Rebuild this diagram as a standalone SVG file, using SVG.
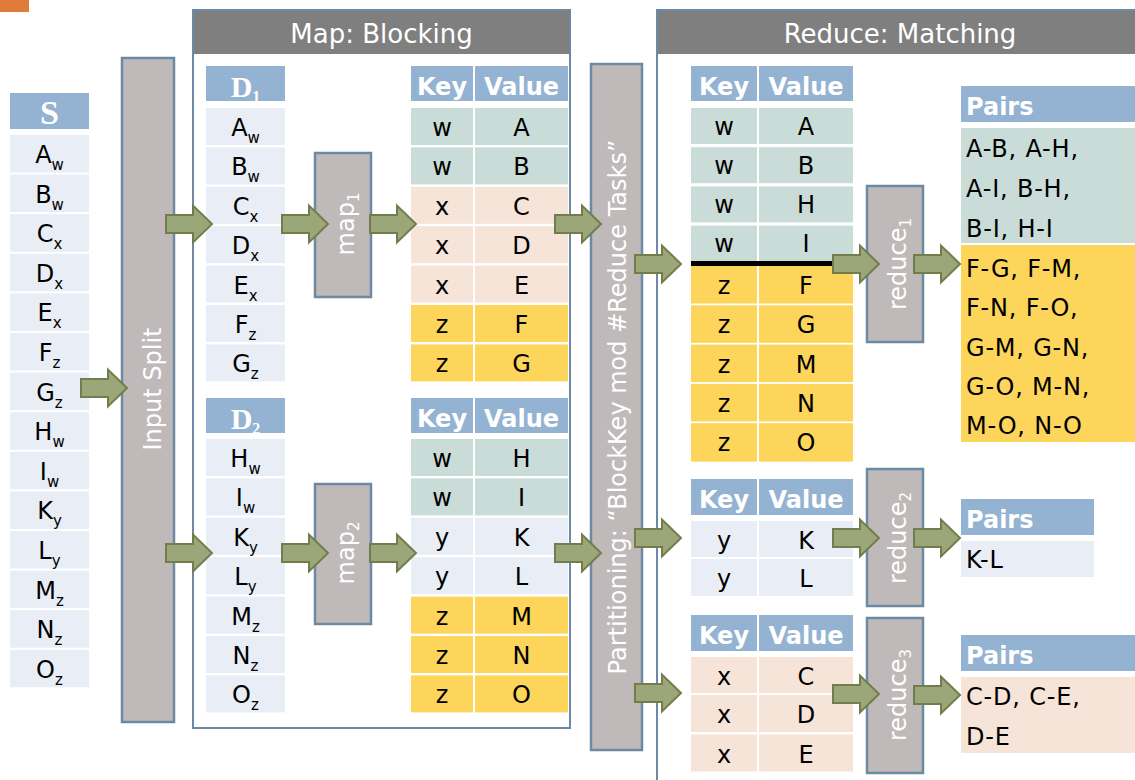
<svg xmlns="http://www.w3.org/2000/svg" xmlns:xlink="http://www.w3.org/1999/xlink" width="1135" height="780" viewBox="0 0 1135 780">
  <defs>
    <style>
      .hdr { fill: #94b3d2; }
      .lt { fill: #e9eef6; }
      .gr { fill: #c9dcd7; }
      .pe { fill: #f7e4d9; }
      .ye { fill: #fcd55a; }
      .bar { fill: #bfb9b9; stroke: #6d8aa5; stroke-width: 2.5; }
      .frame { fill: none; stroke: #6d8aa5; stroke-width: 2; }
      .band { fill: #7f7f7f; }
      text { font-family: "DejaVu Sans", sans-serif; }
      .c { font-size: 24px; text-anchor: middle; fill: #000; }
      .h { font-size: 24px; font-weight: bold; text-anchor: middle; fill: #fff; }
      .hl { font-size: 24px; font-weight: bold; fill: #fff; }
      .sf { font-family: "Liberation Serif", serif; font-weight: bold; text-anchor: middle; fill: #fff; }
      .p { font-size: 24px; fill: #000; letter-spacing: 0.8px; }
      .ttl { font-size: 26px; text-anchor: middle; fill: #fff; }
      .rot { font-size: 24px; text-anchor: middle; fill: #fff; }
      .sub { font-size: 15px; }
      .arrow { fill: #9ba679; stroke: #737d4c; stroke-width: 2; stroke-linejoin: miter; }
    </style>
    <path id="arr" class="arrow" d="M0,-9 H27 V-18.5 L46,0 L27,18.5 V9 H0 Z"/>
  </defs>

  <rect width="1135" height="780" fill="#fff"/>

  <!-- small corner tab -->
  <g id="corner-tab">
    <rect x="0" y="0" width="29" height="12" fill="#e07b39"/>
  </g>

  <!-- source table S -->
  <g id="node-S">
    <rect class="hdr" x="10" y="93" width="79" height="36"/>
    <text class="sf" x="49.5" y="124" font-size="34">S</text>
    <rect class="lt" x="10" y="135" width="79" height="37.5"/>
    <rect class="lt" x="10" y="174.6" width="79" height="37.5"/>
    <rect class="lt" x="10" y="214.2" width="79" height="37.5"/>
    <rect class="lt" x="10" y="253.8" width="79" height="37.5"/>
    <rect class="lt" x="10" y="293.4" width="79" height="37.5"/>
    <rect class="lt" x="10" y="333" width="79" height="37.5"/>
    <rect class="lt" x="10" y="372.6" width="79" height="37.5"/>
    <rect class="lt" x="10" y="412.2" width="79" height="37.5"/>
    <rect class="lt" x="10" y="451.8" width="79" height="37.5"/>
    <rect class="lt" x="10" y="491.4" width="79" height="37.5"/>
    <rect class="lt" x="10" y="531" width="79" height="37.5"/>
    <rect class="lt" x="10" y="570.6" width="79" height="37.5"/>
    <rect class="lt" x="10" y="610.2" width="79" height="37.5"/>
    <rect class="lt" x="10" y="649.8" width="79" height="37.5"/>
    <text class="c" x="49.5" y="163">A<tspan class="sub" dy="7">w</tspan></text>
    <text class="c" x="49.5" y="202.6">B<tspan class="sub" dy="7">w</tspan></text>
    <text class="c" x="49.5" y="242.2">C<tspan class="sub" dy="7">x</tspan></text>
    <text class="c" x="49.5" y="281.8">D<tspan class="sub" dy="7">x</tspan></text>
    <text class="c" x="49.5" y="321.4">E<tspan class="sub" dy="7">x</tspan></text>
    <text class="c" x="49.5" y="361">F<tspan class="sub" dy="7">z</tspan></text>
    <text class="c" x="49.5" y="400.6">G<tspan class="sub" dy="7">z</tspan></text>
    <text class="c" x="49.5" y="440.2">H<tspan class="sub" dy="7">w</tspan></text>
    <text class="c" x="49.5" y="479.8">I<tspan class="sub" dy="7">w</tspan></text>
    <text class="c" x="49.5" y="519.4">K<tspan class="sub" dy="7">y</tspan></text>
    <text class="c" x="49.5" y="559">L<tspan class="sub" dy="7">y</tspan></text>
    <text class="c" x="49.5" y="598.6">M<tspan class="sub" dy="7">z</tspan></text>
    <text class="c" x="49.5" y="638.2">N<tspan class="sub" dy="7">z</tspan></text>
    <text class="c" x="49.5" y="677.8">O<tspan class="sub" dy="7">z</tspan></text>
  </g>

  <!-- input split bar -->
  <g id="node-input-split">
    <rect class="bar" x="122" y="58" width="52" height="664"/>
    <text class="rot" font-size="26" transform="translate(161,389) rotate(-90)">Input Split</text>
  </g>

  <!-- map phase frame -->
  <g id="frame-map">
    <rect class="band" x="193" y="10" width="377" height="44"/>
    <rect class="frame" x="193" y="10" width="377" height="718"/>
    <text class="ttl" x="381.5" y="43">Map: Blocking</text>
  </g>

  <!-- partition D1 -->
  <g id="node-D1">
    <rect class="hdr" x="206" y="66" width="79" height="35"/>
    <text class="sf" x="245.5" y="97" font-size="30">D<tspan font-size="16" dy="5">1</tspan></text>
    <rect class="lt" x="206" y="108" width="79" height="37"/>
    <rect class="lt" x="206" y="147.4" width="79" height="37"/>
    <rect class="lt" x="206" y="186.8" width="79" height="37"/>
    <rect class="lt" x="206" y="226.2" width="79" height="37"/>
    <rect class="lt" x="206" y="265.6" width="79" height="37"/>
    <rect class="lt" x="206" y="305" width="79" height="37"/>
    <rect class="lt" x="206" y="344.4" width="79" height="37"/>
    <text class="c" x="245.5" y="136">A<tspan class="sub" dy="7">w</tspan></text>
    <text class="c" x="245.5" y="175.4">B<tspan class="sub" dy="7">w</tspan></text>
    <text class="c" x="245.5" y="214.8">C<tspan class="sub" dy="7">x</tspan></text>
    <text class="c" x="245.5" y="254.2">D<tspan class="sub" dy="7">x</tspan></text>
    <text class="c" x="245.5" y="293.6">E<tspan class="sub" dy="7">x</tspan></text>
    <text class="c" x="245.5" y="333">F<tspan class="sub" dy="7">z</tspan></text>
    <text class="c" x="245.5" y="372.4">G<tspan class="sub" dy="7">z</tspan></text>
  </g>

  <!-- partition D2 -->
  <g id="node-D2">
    <rect class="hdr" x="206" y="398" width="79" height="35"/>
    <text class="sf" x="245.5" y="429" font-size="30">D<tspan font-size="16" dy="5">2</tspan></text>
    <rect class="lt" x="206" y="439" width="79" height="37"/>
    <rect class="lt" x="206" y="478.4" width="79" height="37"/>
    <rect class="lt" x="206" y="517.8" width="79" height="37"/>
    <rect class="lt" x="206" y="557.2" width="79" height="37"/>
    <rect class="lt" x="206" y="596.6" width="79" height="37"/>
    <rect class="lt" x="206" y="636" width="79" height="37"/>
    <rect class="lt" x="206" y="675.4" width="79" height="37"/>
    <text class="c" x="245.5" y="467">H<tspan class="sub" dy="7">w</tspan></text>
    <text class="c" x="245.5" y="506.4">I<tspan class="sub" dy="7">w</tspan></text>
    <text class="c" x="245.5" y="545.8">K<tspan class="sub" dy="7">y</tspan></text>
    <text class="c" x="245.5" y="585.2">L<tspan class="sub" dy="7">y</tspan></text>
    <text class="c" x="245.5" y="624.6">M<tspan class="sub" dy="7">z</tspan></text>
    <text class="c" x="245.5" y="664">N<tspan class="sub" dy="7">z</tspan></text>
    <text class="c" x="245.5" y="703.4">O<tspan class="sub" dy="7">z</tspan></text>
  </g>

  <!-- mappers -->
  <g id="node-map1">
    <rect class="bar" x="315" y="153" width="56" height="144"/>
    <text class="rot" transform="translate(354,224) rotate(-90)">map<tspan class="sub" dy="5">1</tspan></text>
  </g>
  <g id="node-map2">
    <rect class="bar" x="315" y="484" width="56" height="140"/>
    <text class="rot" transform="translate(354,553) rotate(-90)">map<tspan class="sub" dy="5">2</tspan></text>
  </g>

  <!-- map output 1 -->
  <g id="node-kv1">
    <rect class="hdr" x="411" y="66" width="62" height="35"/>
    <rect class="hdr" x="475" y="66" width="93" height="35"/>
    <text class="h" x="442" y="95">Key</text>
    <text class="h" x="521.5" y="95">Value</text>
    <rect class="gr" x="411" y="108" width="62" height="37"/><rect class="gr" x="475" y="108" width="93" height="37"/>
    <rect class="gr" x="411" y="147.4" width="62" height="37"/><rect class="gr" x="475" y="147.4" width="93" height="37"/>
    <rect class="pe" x="411" y="186.8" width="62" height="37"/><rect class="pe" x="475" y="186.8" width="93" height="37"/>
    <rect class="pe" x="411" y="226.2" width="62" height="37"/><rect class="pe" x="475" y="226.2" width="93" height="37"/>
    <rect class="pe" x="411" y="265.6" width="62" height="37"/><rect class="pe" x="475" y="265.6" width="93" height="37"/>
    <rect class="ye" x="411" y="305" width="62" height="37"/><rect class="ye" x="475" y="305" width="93" height="37"/>
    <rect class="ye" x="411" y="344.4" width="62" height="37"/><rect class="ye" x="475" y="344.4" width="93" height="37"/>
    <text class="c" x="442" y="136">w</text><text class="c" x="521.5" y="136">A</text>
    <text class="c" x="442" y="175.4">w</text><text class="c" x="521.5" y="175.4">B</text>
    <text class="c" x="442" y="214.8">x</text><text class="c" x="521.5" y="214.8">C</text>
    <text class="c" x="442" y="254.2">x</text><text class="c" x="521.5" y="254.2">D</text>
    <text class="c" x="442" y="293.6">x</text><text class="c" x="521.5" y="293.6">E</text>
    <text class="c" x="442" y="333">z</text><text class="c" x="521.5" y="333">F</text>
    <text class="c" x="442" y="372.4">z</text><text class="c" x="521.5" y="372.4">G</text>
  </g>

  <!-- map output 2 -->
  <g id="node-kv2">
    <rect class="hdr" x="411" y="398" width="62" height="35"/>
    <rect class="hdr" x="475" y="398" width="93" height="35"/>
    <text class="h" x="442" y="427">Key</text>
    <text class="h" x="521.5" y="427">Value</text>
    <rect class="gr" x="411" y="439" width="62" height="37"/><rect class="gr" x="475" y="439" width="93" height="37"/>
    <rect class="gr" x="411" y="478.4" width="62" height="37"/><rect class="gr" x="475" y="478.4" width="93" height="37"/>
    <rect class="lt" x="411" y="517.8" width="62" height="37"/><rect class="lt" x="475" y="517.8" width="93" height="37"/>
    <rect class="lt" x="411" y="557.2" width="62" height="37"/><rect class="lt" x="475" y="557.2" width="93" height="37"/>
    <rect class="ye" x="411" y="596.6" width="62" height="37"/><rect class="ye" x="475" y="596.6" width="93" height="37"/>
    <rect class="ye" x="411" y="636" width="62" height="37"/><rect class="ye" x="475" y="636" width="93" height="37"/>
    <rect class="ye" x="411" y="675.4" width="62" height="37"/><rect class="ye" x="475" y="675.4" width="93" height="37"/>
    <text class="c" x="442" y="467">w</text><text class="c" x="521.5" y="467">H</text>
    <text class="c" x="442" y="506.4">w</text><text class="c" x="521.5" y="506.4">I</text>
    <text class="c" x="442" y="545.8">y</text><text class="c" x="521.5" y="545.8">K</text>
    <text class="c" x="442" y="585.2">y</text><text class="c" x="521.5" y="585.2">L</text>
    <text class="c" x="442" y="624.6">z</text><text class="c" x="521.5" y="624.6">M</text>
    <text class="c" x="442" y="664">z</text><text class="c" x="521.5" y="664">N</text>
    <text class="c" x="442" y="703.4">z</text><text class="c" x="521.5" y="703.4">O</text>
  </g>

  <!-- partitioning bar -->
  <g id="node-partitioning">
    <rect class="bar" x="591" y="64" width="51" height="686"/>
    <text class="rot" font-size="25" transform="translate(626,407) rotate(-90)">Partitioning: “BlockKey mod #Reduce Tasks”</text>
  </g>

  <!-- reduce phase frame -->
  <g id="frame-reduce">
    <rect class="band" x="657" y="10" width="490" height="44"/>
    <rect class="frame" x="657" y="10" width="500" height="800"/>
    <text class="ttl" x="900" y="43">Reduce: Matching</text>
  </g>

  <!-- reducer input 1 -->
  <g id="node-rkv1">
    <rect class="hdr" x="691" y="66" width="66" height="35"/>
    <rect class="hdr" x="759" y="66" width="94" height="35"/>
    <text class="h" x="724" y="95">Key</text>
    <text class="h" x="806" y="95">Value</text>
    <rect class="gr" x="691" y="108" width="66" height="36"/><rect class="gr" x="759" y="108" width="94" height="36"/>
    <rect class="gr" x="691" y="147.2" width="66" height="36"/><rect class="gr" x="759" y="147.2" width="94" height="36"/>
    <rect class="gr" x="691" y="186.4" width="66" height="36"/><rect class="gr" x="759" y="186.4" width="94" height="36"/>
    <rect class="gr" x="691" y="225.6" width="66" height="36"/><rect class="gr" x="759" y="225.6" width="94" height="36"/>
    <rect class="ye" x="691" y="266" width="66" height="37.5"/><rect class="ye" x="759" y="266" width="94" height="37.5"/>
    <rect class="ye" x="691" y="305.3" width="66" height="37.5"/><rect class="ye" x="759" y="305.3" width="94" height="37.5"/>
    <rect class="ye" x="691" y="344.6" width="66" height="37.5"/><rect class="ye" x="759" y="344.6" width="94" height="37.5"/>
    <rect class="ye" x="691" y="383.9" width="66" height="37.5"/><rect class="ye" x="759" y="383.9" width="94" height="37.5"/>
    <rect class="ye" x="691" y="423.2" width="66" height="38.5"/><rect class="ye" x="759" y="423.2" width="94" height="38.5"/>
    <rect x="691" y="261" width="162" height="5" fill="#000"/>
    <text class="c" x="724" y="135">w</text><text class="c" x="806" y="135">A</text>
    <text class="c" x="724" y="174">w</text><text class="c" x="806" y="174">B</text>
    <text class="c" x="724" y="213">w</text><text class="c" x="806" y="213">H</text>
    <text class="c" x="724" y="252">w</text><text class="c" x="806" y="252">I</text>
    <text class="c" x="724" y="294">z</text><text class="c" x="806" y="294">F</text>
    <text class="c" x="724" y="333.3">z</text><text class="c" x="806" y="333.3">G</text>
    <text class="c" x="724" y="372.6">z</text><text class="c" x="806" y="372.6">M</text>
    <text class="c" x="724" y="411.9">z</text><text class="c" x="806" y="411.9">N</text>
    <text class="c" x="724" y="451.2">z</text><text class="c" x="806" y="451.2">O</text>
  </g>

  <!-- reducer input 2 -->
  <g id="node-rkv2">
    <rect class="hdr" x="691" y="479" width="66" height="36"/>
    <rect class="hdr" x="759" y="479" width="94" height="36"/>
    <text class="h" x="724" y="508">Key</text>
    <text class="h" x="806" y="508">Value</text>
    <rect class="lt" x="691" y="521" width="66" height="36"/><rect class="lt" x="759" y="521" width="94" height="36"/>
    <rect class="lt" x="691" y="559" width="66" height="37"/><rect class="lt" x="759" y="559" width="94" height="37"/>
    <text class="c" x="724" y="549">y</text><text class="c" x="806" y="549">K</text>
    <text class="c" x="724" y="587">y</text><text class="c" x="806" y="587">L</text>
  </g>

  <!-- reducer input 3 -->
  <g id="node-rkv3">
    <rect class="hdr" x="691" y="615" width="66" height="36"/>
    <rect class="hdr" x="759" y="615" width="94" height="36"/>
    <text class="h" x="724" y="644">Key</text>
    <text class="h" x="806" y="644">Value</text>
    <rect class="pe" x="691" y="657" width="66" height="36"/><rect class="pe" x="759" y="657" width="94" height="36"/>
    <rect class="pe" x="691" y="695" width="66" height="37"/><rect class="pe" x="759" y="695" width="94" height="37"/>
    <rect class="pe" x="691" y="734.5" width="66" height="37"/><rect class="pe" x="759" y="734.5" width="94" height="37"/>
    <text class="c" x="724" y="685">x</text><text class="c" x="806" y="685">C</text>
    <text class="c" x="724" y="723">x</text><text class="c" x="806" y="723">D</text>
    <text class="c" x="724" y="762.5">x</text><text class="c" x="806" y="762.5">E</text>
  </g>

  <!-- reducers -->
  <g id="node-reduce1">
    <rect class="bar" x="867" y="186" width="56" height="156"/>
    <text class="rot" transform="translate(906,264) rotate(-90)">reduce<tspan class="sub" dy="5">1</tspan></text>
  </g>
  <g id="node-reduce2">
    <rect class="bar" x="867" y="469" width="56" height="137"/>
    <text class="rot" transform="translate(906,538) rotate(-90)">reduce<tspan class="sub" dy="5">2</tspan></text>
  </g>
  <g id="node-reduce3">
    <rect class="bar" x="867" y="618" width="56" height="155"/>
    <text class="rot" transform="translate(906,695) rotate(-90)">reduce<tspan class="sub" dy="5">3</tspan></text>
  </g>

  <!-- output pairs -->
  <g id="node-pairs1">
    <rect class="hdr" x="961" y="86" width="174" height="36"/>
    <text class="hl" x="966" y="115">Pairs</text>
    <rect class="gr" x="961" y="128" width="174" height="115"/>
    <rect class="ye" x="961" y="245" width="174" height="197"/>
    <text class="p" x="966" y="157">A-B, A-H,</text>
    <text class="p" x="966" y="197">A-I, B-H,</text>
    <text class="p" x="966" y="237">B-I, H-I</text>
    <text class="p" x="966" y="277">F-G, F-M,</text>
    <text class="p" x="966" y="316">F-N, F-O,</text>
    <text class="p" x="966" y="355.5">G-M, G-N,</text>
    <text class="p" x="966" y="395">G-O, M-N,</text>
    <text class="p" x="966" y="434">M-O, N-O</text>
  </g>
  <g id="node-pairs2">
    <rect class="hdr" x="961" y="499" width="133" height="36"/>
    <text class="hl" x="966" y="528">Pairs</text>
    <rect class="lt" x="961" y="541" width="133" height="36"/>
    <text class="p" x="966" y="568">K-L</text>
  </g>
  <g id="node-pairs3">
    <rect class="hdr" x="961" y="635" width="174" height="36"/>
    <text class="hl" x="966" y="664">Pairs</text>
    <rect class="pe" x="961" y="677" width="174" height="76"/>
    <text class="p" x="966" y="705">C-D, C-E,</text>
    <text class="p" x="966" y="745">D-E</text>
  </g>

  <!-- block arrows -->
  <g id="connectors">
    <use xlink:href="#arr" x="81" y="388"/>
    <use xlink:href="#arr" x="166" y="224"/>
    <use xlink:href="#arr" x="166" y="553"/>
    <use xlink:href="#arr" x="282" y="224"/>
    <use xlink:href="#arr" x="282" y="553"/>
    <use xlink:href="#arr" x="370" y="224"/>
    <use xlink:href="#arr" x="370" y="553"/>
    <use xlink:href="#arr" x="555" y="224"/>
    <use xlink:href="#arr" x="555" y="553"/>
    <use xlink:href="#arr" x="635" y="264"/>
    <use xlink:href="#arr" x="635" y="538"/>
    <use xlink:href="#arr" x="635" y="693"/>
    <use xlink:href="#arr" x="833" y="264"/>
    <use xlink:href="#arr" x="833" y="538"/>
    <use xlink:href="#arr" x="833" y="694"/>
    <use xlink:href="#arr" x="914" y="264"/>
    <use xlink:href="#arr" x="914" y="538"/>
    <use xlink:href="#arr" x="914" y="695"/>
  </g>
</svg>
